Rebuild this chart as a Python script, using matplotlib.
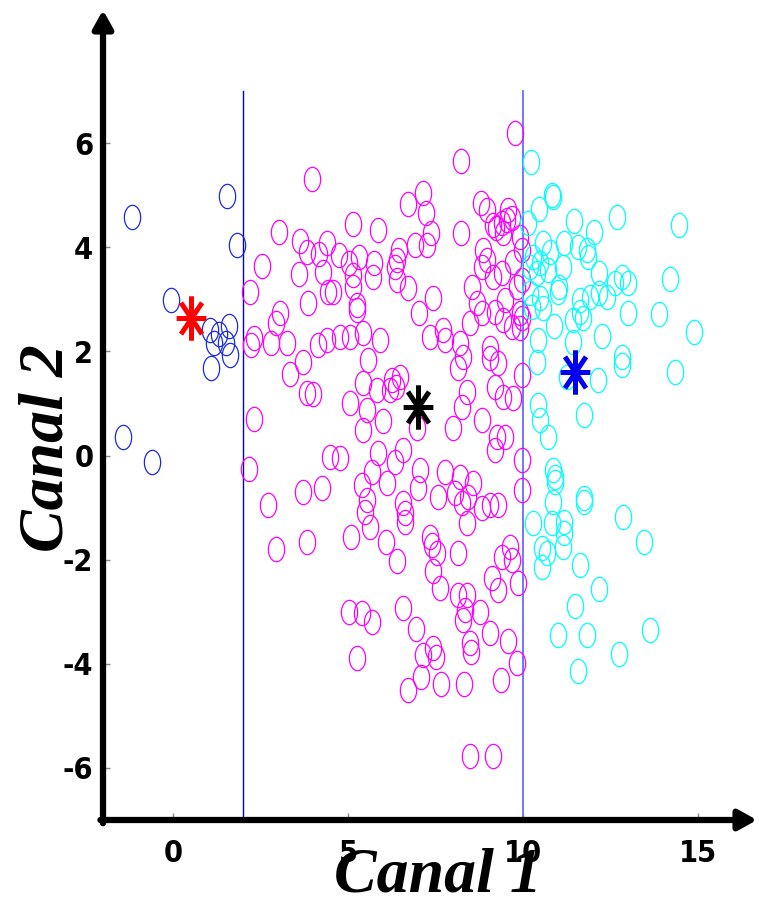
import numpy as np
import matplotlib
matplotlib.use("Agg")
import matplotlib.pyplot as plt
from matplotlib.path import Path

# class 1 (blue), class 2 (magenta), class 3 (cyan)
blue_x = [-1.17, 1.54, 1.83, -0.06, 1.06, 1.31, 1.60, 1.17, 1.51, 1.63, 1.09, -1.43, -0.60]
blue_y = [4.58, 4.99, 4.04, 2.99, 2.41, 2.34, 2.49, 2.17, 2.17, 1.93, 1.69, 0.36, -0.12]

magenta_x = [3.97, 3.03, 3.63, 3.83, 4.17, 4.40, 2.54, 3.60, 4.29, 2.20, 3.86, 3.06, 2.94, 4.43,
             2.31, 2.80, 3.26, 2.23, 4.14, 4.40, 9.77, 8.23, 7.14, 6.71, 7.23, 8.80, 8.97, 9.14,
             9.40, 9.57, 9.54, 9.69, 9.43, 9.91, 9.23, 8.23, 7.37, 7.26, 6.91, 6.46, 5.14, 5.86,
             4.74, 5.03, 5.31, 5.74, 5.14, 5.71, 6.40, 6.34, 6.40, 6.71, 4.57, 5.14, 5.26, 5.26,
             7.03, 7.43, 8.86, 8.97, 8.83, 9.14, 9.40, 9.71, 9.83, 8.54, 8.69, 8.83, 9.20, 9.49,
             9.91, 9.43, 9.69, 9.91, 8.49, 4.77, 5.06, 5.43, 5.91, 7.34, 7.71, 7.77, 8.20, 9.06,
             9.97, 9.97, 9.97, 2.31, 2.17, 4.49, 2.71, 3.71, 4.26, 2.94, 3.83, 3.71, 3.34, 3.83,
             4.00, 5.57, 5.43, 5.83, 6.26, 6.20, 6.37, 6.49, 5.06, 5.54, 6.00, 5.43, 6.97, 8.14,
             8.29, 8.40, 8.26, 8.00, 8.83, 9.06, 9.29, 9.20, 9.43, 9.71, 9.97, 9.26, 9.49, 9.20,
             9.97, 9.97, 4.77, 5.86, 6.57, 6.34, 5.69, 5.40, 6.11, 7.06, 7.00, 7.77, 8.20, 8.57,
             7.57, 8.06, 8.26, 8.43, 8.83, 9.06, 9.29, 5.54, 5.49, 5.63, 6.57, 6.63, 6.63, 8.40,
             5.09, 6.09, 7.34, 7.40, 7.54, 6.40, 7.43, 8.14, 9.63, 9.40, 9.69, 9.11, 9.86, 7.63,
             9.29, 8.14, 8.40, 8.34, 8.29, 8.77, 5.03, 5.40, 5.69, 6.57, 6.94, 7.43, 7.14, 7.51,
             8.49, 8.51, 9.06, 9.57, 9.83, 5.26, 7.09, 6.71, 7.66, 8.31, 9.37, 8.49, 9.14]
magenta_y = [5.32, 4.30, 4.12, 3.91, 3.88, 4.09, 3.64, 3.49, 3.53, 3.15, 2.93, 2.74, 2.55, 3.15,
             2.26, 2.17, 2.17, 2.13, 2.13, 2.22, 6.20, 5.66, 5.05, 4.84, 4.66, 4.86, 4.72, 4.43,
             4.47, 4.72, 4.53, 4.57, 4.28, 4.20, 4.37, 4.28, 4.28, 4.05, 4.05, 3.95, 4.45, 4.34,
             3.86, 3.70, 3.82, 3.70, 3.47, 3.43, 3.76, 3.63, 3.38, 3.22, 3.15, 3.24, 2.90, 2.80,
             2.74, 3.03, 3.95, 3.76, 3.63, 3.43, 3.51, 3.72, 3.24, 3.24, 2.93, 2.74, 2.76, 2.99,
             2.74, 2.61, 2.47, 2.45, 2.55, 2.28, 2.28, 2.36, 2.22, 2.28, 2.42, 2.22, 2.17, 2.07,
             3.95, 3.37, 2.64, 0.71, -0.26, -0.02, -0.95, -0.70, -0.62, -1.79, -1.66, 1.80, 1.57, 1.20,
             1.19, 1.84, 1.40, 1.26, 1.45, 1.26, 1.32, 1.51, 1.01, 0.88, 0.67, 0.49, 0.53, 1.69,
             1.90, 1.22, 0.94, 0.53, 0.69, 1.88, 1.78, 1.32, 1.13, 1.11, 1.55, 0.36, 0.36, 0.11,
             -0.08, -0.66, -0.04, 0.05, 0.11, -0.12, -0.31, -0.56, -0.52, -0.27, -0.62, -0.31, -0.41, -0.52,
             -0.79, -0.72, -0.91, -0.79, -1.00, -0.95, -0.95, -0.85, -1.08, -1.37, -0.91, -1.10, -1.27, -1.29,
             -1.56, -1.66, -1.56, -1.72, -1.87, -2.03, -2.22, -1.87, -1.75, -1.95, -2.01, -2.36, -2.45, -2.55,
             -2.58, -2.68, -2.68, -2.97, -3.16, -3.01, -3.01, -3.02, -3.20, -2.93, -3.33, -3.69, -3.83, -3.87,
             -3.60, -3.77, -3.40, -3.56, -3.98, -3.89, -4.25, -4.50, -4.38, -4.38, -4.32, -5.77, -5.77]

cyan_x = [10.23, 10.83, 10.86, 10.46, 10.14, 11.46, 12.69, 14.46, 12.03, 10.57, 11.17, 11.57, 11.83,
          11.86, 10.29, 10.77, 10.49, 10.71, 11.14, 10.20, 10.40, 12.17, 12.83, 13.00, 12.63, 14.20,
          11.03, 11.00, 10.20, 10.49, 10.26, 10.57, 11.63, 11.91, 12.17, 12.40, 11.63, 11.43, 11.71,
          10.89, 13.00, 13.89, 14.89, 12.26, 10.43, 11.43, 10.40, 12.83, 12.83, 11.26, 12.14, 14.34,
          10.43, 10.49, 10.71, 11.74, 10.86, 10.91, 10.91, 10.86, 11.74, 11.74, 10.29, 10.83, 11.17,
          11.17, 11.14, 12.86, 13.46, 10.54, 10.69, 10.54, 11.63, 12.17, 11.49, 11.00, 11.83, 13.63,
          12.74, 11.57]
cyan_y = [5.64, 5.01, 4.97, 4.74, 4.47, 4.50, 4.58, 4.43, 4.30, 4.08, 4.08, 4.01, 3.95,
          3.82, 3.82, 3.91, 3.70, 3.57, 3.62, 3.62, 3.51, 3.51, 3.43, 3.32, 3.32, 3.39,
          3.24, 3.15, 3.13, 3.03, 2.86, 2.84, 2.99, 3.05, 3.13, 3.05, 2.76, 2.61, 2.64,
          2.49, 2.74, 2.72, 2.38, 2.30, 2.22, 2.18, 1.80, 1.89, 1.74, 1.51, 1.45, 1.61,
          0.97, 0.69, 0.36, 0.78, -0.27, -0.41, -0.51, -0.89, -0.89, -0.81, -1.29, -1.29, -1.27,
          -1.48, -1.75, -1.18, -1.66, -1.78, -1.87, -2.14, -2.10, -2.57, -2.88, -3.45, -3.45, -3.35,
          -3.81, -4.13]

# class centres
centre_x = [0.51, 7.00, 11.49]
centre_y = [2.64, 0.94, 1.60]
centre_colors = ["#ff0000", "#000000", "#0000ee"]

# decision boundaries on canal 1
bounds = [2, 10]
bound_colors = ["#0000cc", "#6a6aff"]

xticks = [0, 5, 10, 15]
yticks = [-6, -4, -2, 0, 2, 4, 6]

# the original picture is stretched vertically, so circles are ellipses
ratio = 0.67
t = np.linspace(0, 2 * np.pi, 60)
ellipse = Path(np.column_stack([ratio * np.cos(t), np.sin(t)]), closed=True)

ang = np.arange(8) * np.pi / 4
verts, codes = [], []
for a in ang:
    verts += [(0, 0), (ratio * np.cos(a), np.sin(a))]
    codes += [Path.MOVETO, Path.LINETO]
star = Path(verts, codes)

fig = plt.figure(figsize=(7.59, 9.02), dpi=100)
ax = fig.add_axes([103 / 759, 82 / 902, 656 / 759, 810 / 902])
ax.set_xlim(-2, 16.74)
ax.set_ylim(-7, 8.56)

for b, c, lw in zip(bounds, bound_colors, [1.0, 1.3]):
    ax.plot([b, b], [-7, 7], color=c, lw=lw, zorder=1)

ax.plot(blue_x, blue_y, ls="none", marker=ellipse, ms=17.5, mfc="none", mec="#1a2ae8", mew=0.9)
ax.plot(magenta_x, magenta_y, ls="none", marker=ellipse, ms=17.5, mfc="none", mec="#ff00ff", mew=0.9)
ax.plot(cyan_x, cyan_y, ls="none", marker=ellipse, ms=17.5, mfc="none", mec="#00ffff", mew=0.9)

for x, y, c in zip(centre_x, centre_y, centre_colors):
    ax.plot(x, y, ls="none", marker=star, ms=32, mec=c, mew=3.6, zorder=5)

for s in ax.spines.values():
    s.set_visible(False)

arrow = dict(arrowstyle="-|>,head_length=0.9,head_width=0.5", lw=4.5, color="k",
             shrinkA=0, shrinkB=0, mutation_scale=12)
ax.annotate("", xy=(0, 1), xytext=(0, -0.004), xycoords="axes fraction", arrowprops=arrow)
ax.annotate("", xy=(0.997, 0), xytext=(-0.004, 0), xycoords="axes fraction", arrowprops=arrow)

ax.set_xticks(xticks)
ax.set_yticks(yticks)
ax.tick_params(direction="in", length=5, width=1, color="#888888")
ax.tick_params(axis="y", pad=7)
ax.tick_params(axis="x", pad=14)
tick_font = dict(family=["DejaVu Sans"], stretch="condensed", weight="bold", size=22)
ax.set_xticklabels([str(v) for v in xticks], **tick_font)
ax.set_yticklabels([str(v) for v in yticks], **tick_font)

label_font = dict(family=["Liberation Serif", "DejaVu Serif"], weight="bold", style="italic", size=46)
fig.text(438 / 759, 1 - 876 / 902, "Canal 1", ha="center", va="center", **label_font)
fig.text(48 / 759, 1 - 448 / 902, "Canal 2", ha="center", va="center", rotation=90, **label_font)

fig.savefig("out.png", dpi=100)
